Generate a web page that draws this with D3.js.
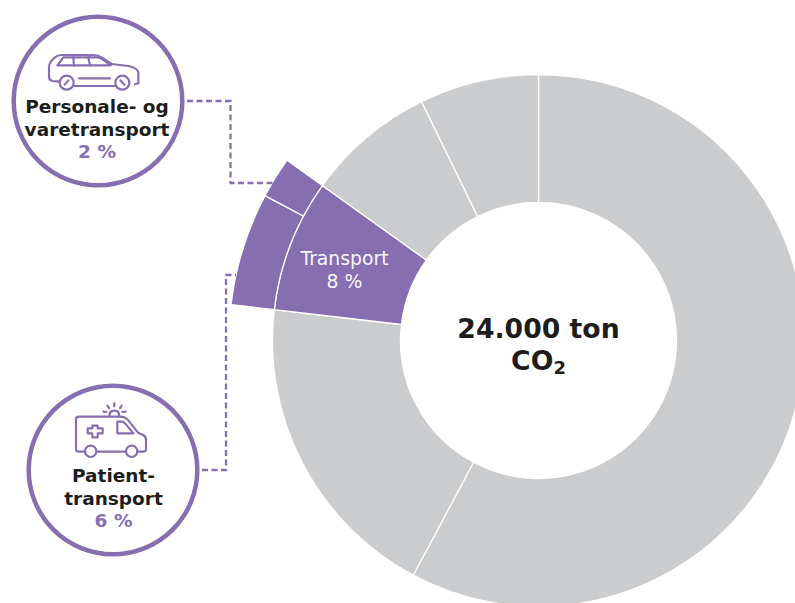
<!DOCTYPE html>
<html>
<head>
<meta charset="utf-8">
<script src="https://cdnjs.cloudflare.com/ajax/libs/d3/7.8.5/d3.min.js"></script>
<style>
  html, body { margin: 0; padding: 0; background: #fff; overflow: hidden; }
  svg { display: block; font-family: "DejaVu Sans", sans-serif; }
</style>
</head>
<body>
<svg id="chart" width="795" height="603"></svg>
<script>
// shares of the 24.000 ton
const segments = ['Stor', 'Mellem', 'Transport', 'Lille 1', 'Lille 2']
const shares = [57.8, 19.05, 8.05, 7.85, 7.25]
const subSegments = ['Patienttransport', 'Personale- og varetransport']
const subShares = [5.9, 2.15]
const transportIndex = 2

const purple = '#866eb0'
const grey = '#cbccce'
const ink = '#1d1d1b'

const cx = 538.5
const cy = 340.5

const svg = d3.select('#chart')
const donut = svg.append('g').attr('transform', `translate(${cx},${cy})`)

const pie = d3.pie().sort(null).value(d => d)
const slices = pie(shares)
const arc = d3.arc().innerRadius(138).outerRadius(266)

donut.selectAll('.slice')
    .data(slices)
    .join('path')
    .attr('class', 'slice')
    .attr('d', arc)
    .attr('fill', (d, i) => i === transportIndex ? purple : grey)
    .attr('stroke', '#fff')
    .attr('stroke-width', 1.3)

// the transport slice is split again in an outer ring
const t = slices[transportIndex]
const outerPie = d3.pie().sort(null).value(d => d).startAngle(t.startAngle).endAngle(t.endAngle)
const outerArc = d3.arc().innerRadius(266).outerRadius(309.5)

donut.selectAll('.sub')
    .data(outerPie(subShares))
    .join('path')
    .attr('class', 'sub')
    .attr('d', outerArc)
    .attr('fill', purple)
    .attr('stroke', '#fff')
    .attr('stroke-width', 1.3)

// text on the donut
function label(x, y, str, size, weight, color) {
    return svg.append('text')
        .attr('x', x)
        .attr('y', y)
        .attr('text-anchor', 'middle')
        .attr('font-size', size)
        .attr('font-weight', weight)
        .attr('fill', color)
        .text(str)
}

label(344.5, 265, 'Transport', 18.8, 'normal', '#fff').attr('opacity', 0.95)
label(344.5, 288, '8 %', 18.8, 'normal', '#fff').attr('opacity', 0.95)

label(538.5, 337.5, '24.000 ton', 26.7, 'bold', ink)
const co2 = label(538.5, 370, 'CO', 26.7, 'bold', ink)
co2.append('tspan').attr('font-size', 18).attr('dy', 3.5).text('2')

// dashed connectors
const line = d3.line()
function connector(points) {
    svg.append('path')
        .attr('d', line(points))
        .attr('fill', 'none')
        .attr('stroke', purple)
        .attr('stroke-width', 2.3)
        .attr('stroke-dasharray', '6 3.5')
}
connector([[187, 101], [230.5, 101], [230.5, 183], [273, 183]])
connector([[202, 470], [226, 470], [226, 275], [236, 275]])

// callout circles
function bubble(x, y) {
    svg.append('circle')
        .attr('cx', x)
        .attr('cy', y)
        .attr('r', 84.3)
        .attr('fill', '#fff')
        .attr('stroke', purple)
        .attr('stroke-width', 4.5)
}
bubble(98, 101)
bubble(113, 470)

label(97, 113, 'Personale- og', 18.5, 'bold', ink)
label(97, 135.5, 'varetransport', 18.5, 'bold', ink)
label(97, 158, '2 %', 18.5, 'bold', purple)

label(113.5, 482, 'Patient-', 18.5, 'bold', ink)
label(113.5, 505, 'transport', 18.5, 'bold', ink)
label(113.5, 527, '6 %', 18.5, 'bold', purple)

// icons, drawn at 3x and scaled down
function icon(dy, paths, circles) {
    const g = svg.append('g')
        .attr('transform', `translate(0,${dy}) scale(${1 / 3})`)
        .attr('fill', 'none')
        .attr('stroke', purple)
        .attr('stroke-width', 6.5)
        .attr('stroke-linejoin', 'round')
        .attr('stroke-linecap', 'round')
    paths.forEach(p => g.append('path').attr('d', p))
    circles.forEach(c => g.append('circle').attr('cx', c[0]).attr('cy', c[1]).attr('r', c[2]))
}

icon(0, [
    'M178,245 L157,243 Q147,240 147,231 L147,203 Q147,192 153,184 L165,172 Q172,165 185,165 L280,165 Q295,165 305,172 L335,192 L385,198 Q410,203 415,216 L415,250 L405,253',
    'M222,258 L345,258',
    'M237,235 L330,235',
    'M172,196 L190,172 L290,172 Q298,172 305,176 L332,196 Z',
    'M220,172 L222,196',
    'M265,172 L270,196',
    'M194,254 L205,241',
    'M361,241 L373,254'
], [[200, 248, 21], [367, 248, 21]])

icon(260, [
    'M255,575 L236,575 Q228,575 228,567 L228,478 Q228,470 236,470 L360,470 Q375,470 385,481 L414,518 L430,525 Q438,530 438,540 L438,567 Q438,575 430,575 L412,575',
    'M290,575 L378,575',
    'M352,485 L365,485 Q371,485 376,491 L400,520 L352,520 Z',
    'M277,497 L293,497 L293,505 L308,505 L308,520 L293,520 L293,532 L277,532 L277,520 L263,520 L263,505 L277,505 Z',
    'M328,468 Q328,452 343,452 Q358,452 358,468',
    'M343,430 L343,439',
    'M322,437 L327,444',
    'M365,437 L360,444',
    'M310,455 L319,456',
    'M367,456 L377,455'
], [[272, 574, 17], [395, 574, 17]])
</script>
</body>
</html>
